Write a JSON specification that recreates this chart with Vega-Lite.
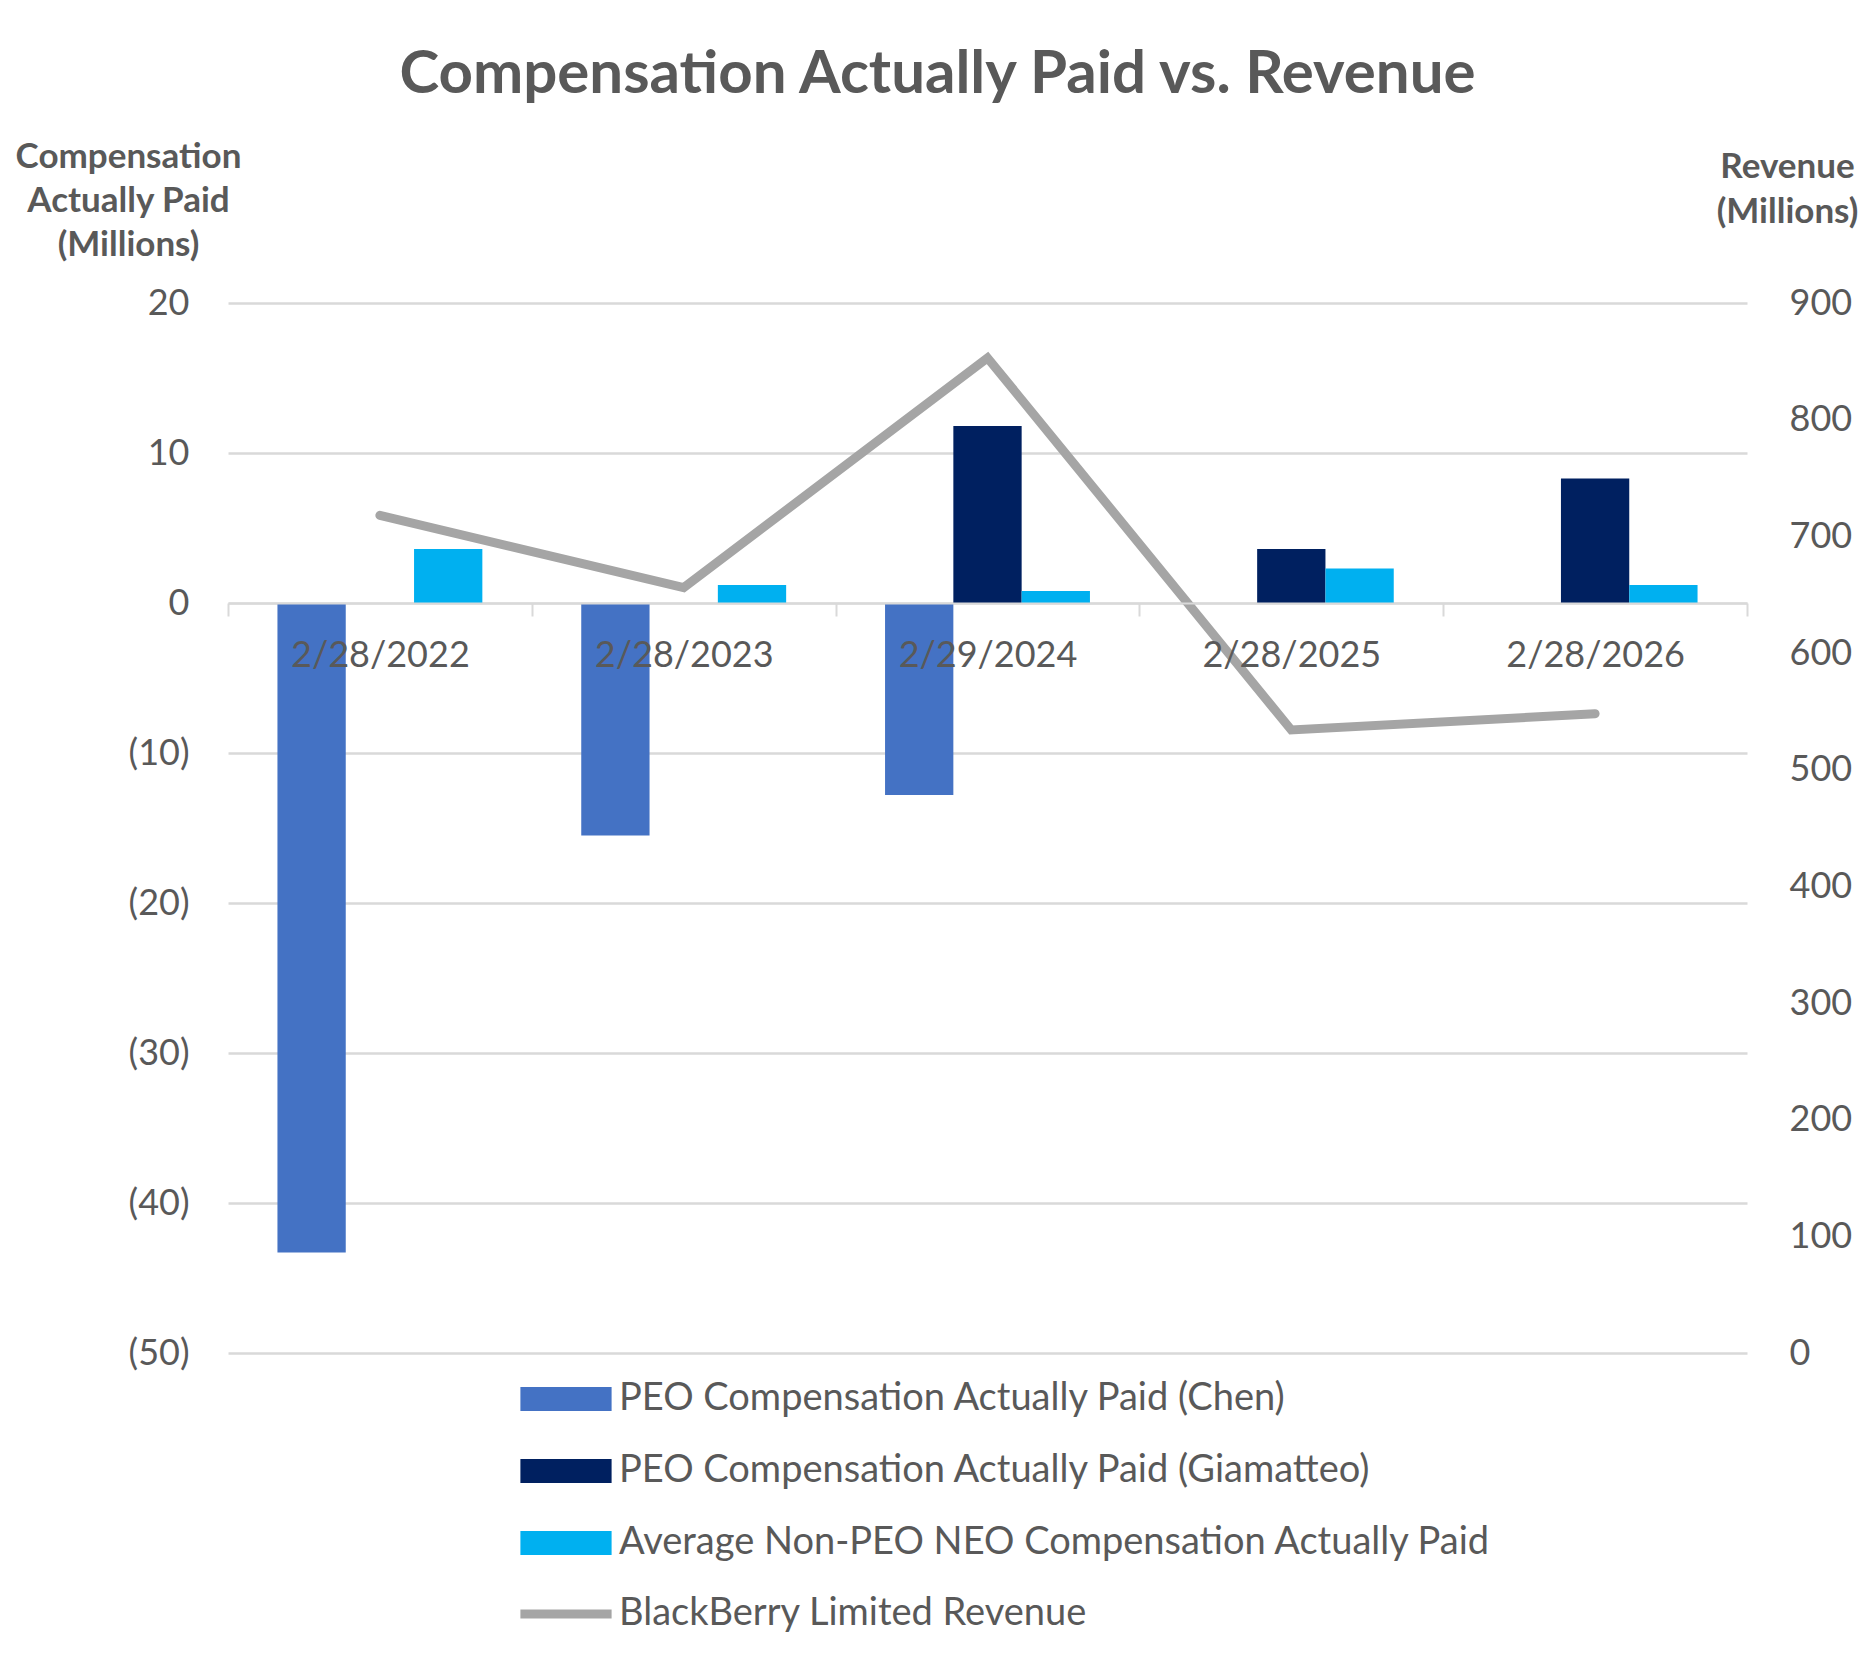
{
  "$schema": "https://vega.github.io/schema/vega-lite/v6.json",
  "autosize": {"type": "none"},
  "width": 1519,
  "height": 1050,
  "padding": {"left": 228, "top": 303, "right": 128, "bottom": 300},
  "background": "white",
  "title": {
    "text": "Compensation Actually Paid vs. Revenue",
    "anchor": "middle",
    "dx": -50,
    "offset": 33,
    "font": "Lato",
    "fontSize": 60,
    "fontWeight": "bold",
    "color": "#595959"
  },
  "datasets": {
    "comp": [
      {"date": "2/28/2022", "series": "PEO Compensation Actually Paid (Chen)", "value": -43.3},
      {"date": "2/28/2022", "series": "Average Non-PEO NEO Compensation Actually Paid", "value": 3.6},
      {"date": "2/28/2023", "series": "PEO Compensation Actually Paid (Chen)", "value": -15.5},
      {"date": "2/28/2023", "series": "Average Non-PEO NEO Compensation Actually Paid", "value": 1.2},
      {"date": "2/29/2024", "series": "PEO Compensation Actually Paid (Chen)", "value": -12.8},
      {"date": "2/29/2024", "series": "PEO Compensation Actually Paid (Giamatteo)", "value": 11.8},
      {"date": "2/29/2024", "series": "Average Non-PEO NEO Compensation Actually Paid", "value": 0.8},
      {"date": "2/28/2025", "series": "PEO Compensation Actually Paid (Giamatteo)", "value": 3.6},
      {"date": "2/28/2025", "series": "Average Non-PEO NEO Compensation Actually Paid", "value": 2.3},
      {"date": "2/28/2026", "series": "PEO Compensation Actually Paid (Giamatteo)", "value": 8.3},
      {"date": "2/28/2026", "series": "Average Non-PEO NEO Compensation Actually Paid", "value": 1.2}
    ],
    "revenue": [
      {"date": "2/28/2022", "revenue": 718},
      {"date": "2/28/2023", "revenue": 656},
      {"date": "2/29/2024", "revenue": 853},
      {"date": "2/28/2025", "revenue": 534},
      {"date": "2/28/2026", "revenue": 548}
    ]
  },
  "layer": [
    {
      "data": {"name": "comp"},
      "mark": {"type": "bar"},
      "encoding": {
        "x": {
          "field": "date",
          "type": "nominal",
          "sort": null,
          "scale": {"paddingInner": 0, "paddingOuter": 0},
          "axis": {
            "title": null,
            "orient": "bottom",
            "offset": -750,
            "zindex": 1,
            "labelAngle": 0,
            "labelPadding": 22,
            "labelFont": "Lato",
            "labelFontSize": 36,
            "labelColor": "#595959",
            "tickBand": "extent",
            "tickSize": 13,
            "tickColor": "#d9d9d9",
            "tickWidth": 2,
            "domainColor": "#d9d9d9",
            "domainWidth": 2
          }
        },
        "xOffset": {
          "field": "series",
          "type": "nominal",
          "scale": {
            "domain": ["PEO Compensation Actually Paid (Chen)", "PEO Compensation Actually Paid (Giamatteo)", "Average Non-PEO NEO Compensation Actually Paid"],
            "paddingInner": 0,
            "paddingOuter": 0.724
          }
        },
        "y": {
          "field": "value",
          "type": "quantitative",
          "scale": {"domain": [-50, 20], "nice": false},
          "axis": {
            "values": [-50, -40, -30, -20, -10, 0, 10, 20],
            "labelExpr": "datum.value < 0 ? '(' + format(-datum.value, 'd') + ')' : format(datum.value, 'd') + '\u00a0'",
            "grid": true,
            "gridColor": "#d9d9d9",
            "gridWidth": 2.5,
            "domain": false,
            "ticks": false,
            "tickSize": 0,
            "labelPadding": 39,
            "labelFont": "Lato",
            "labelFontSize": 36,
            "labelColor": "#595959",
            "title": ["Compensation", "Actually Paid", "(Millions)"],
            "titleAngle": 0,
            "titleAlign": "center",
            "titleBaseline": "alphabetic",
            "titleX": -100,
            "titleY": -136,
            "titleFont": "Lato",
            "titleFontSize": 35,
            "titleFontWeight": "bold",
            "titleColor": "#595959",
            "titleLineHeight": 44
          }
        },
        "color": {
          "field": "series",
          "type": "nominal",
          "scale": {
            "domain": ["PEO Compensation Actually Paid (Chen)", "PEO Compensation Actually Paid (Giamatteo)", "Average Non-PEO NEO Compensation Actually Paid"],
            "range": ["#4472c4", "#002060", "#00b0f0"]
          },
          "legend": {
            "orient": "none",
            "legendX": 319,
            "legendY": 1077,
            "title": null,
            "symbolType": "M-3.8,-1H3.8V1H-3.8Z",
            "symbolSize": 576,
            "symbolStrokeWidth": 0,
            "symbolOpacity": 1,
            "labelOffset": 34,
            "labelFont": "Lato",
            "labelFontSize": 38,
            "labelColor": "#595959",
            "labelLimit": 1200,
            "rowPadding": 34
          }
        }
      }
    },
    {
      "data": {"name": "revenue"},
      "mark": {"type": "line", "strokeWidth": 9, "strokeCap": "round"},
      "encoding": {
        "x": {"field": "date", "type": "nominal", "sort": null},
        "y": {
          "field": "revenue",
          "type": "quantitative",
          "scale": {"domain": [0, 900], "nice": false},
          "axis": {
            "orient": "right",
            "values": [0, 100, 200, 300, 400, 500, 600, 700, 800, 900],
            "grid": false,
            "domain": false,
            "ticks": false,
            "tickSize": 0,
            "labelPadding": 42,
            "labelFont": "Lato",
            "labelFontSize": 36,
            "labelColor": "#595959",
            "title": ["Revenue", "(Millions)"],
            "titleAngle": 0,
            "titleAlign": "center",
            "titleBaseline": "alphabetic",
            "titleX": 40,
            "titleY": -126,
            "titleFont": "Lato",
            "titleFontSize": 35,
            "titleFontWeight": "bold",
            "titleColor": "#595959",
            "titleLineHeight": 45
          }
        },
        "stroke": {
          "datum": "BlackBerry Limited Revenue",
          "type": "nominal",
          "scale": {"range": ["#a5a5a5"]},
          "legend": {
            "orient": "none",
            "legendX": 319,
            "legendY": 1292,
            "title": null,
            "symbolType": "M-3.8,0H3.8",
            "symbolSize": 576,
            "symbolStrokeWidth": 9,
            "labelOffset": 34,
            "labelFont": "Lato",
            "labelFontSize": 38,
            "labelColor": "#595959",
            "labelLimit": 1200
          }
        }
      }
    }
  ],
  "resolve": {"scale": {"y": "independent"}},
  "config": {
    "view": {"stroke": null}
  }
}
